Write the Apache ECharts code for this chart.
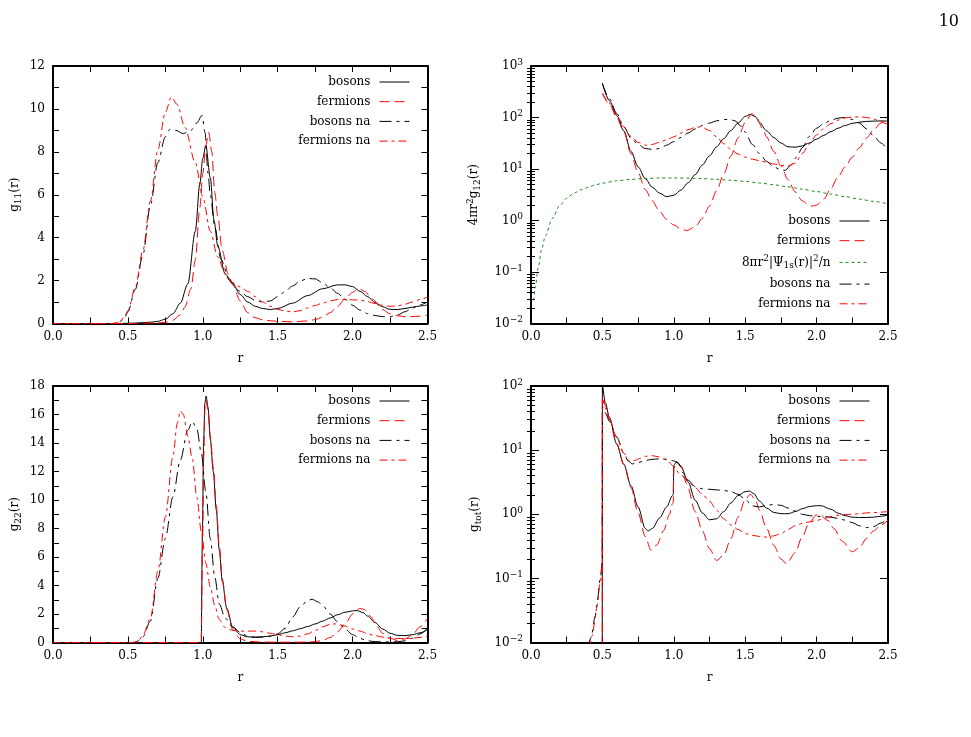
<!DOCTYPE html>
<html><head><meta charset="utf-8">
<script src="https://cdn.jsdelivr.net/npm/echarts@6/dist/echarts.min.js"></script>
<style>html,body{margin:0;padding:0;background:#fff}#c{width:971px;height:737px}</style>
</head><body><div id="c"></div><script>
// ---------------- DATA (r, value) ----------------
const xTicks = [0, 0.5, 1.0, 1.5, 2.0, 2.5];
const seriesNames = ['bosons', 'fermions', 'bosons na', 'fermions na'];
const psiName = '8πr2|Ψ1s(r)|2/n';
const pageNumber = '10';

// panel 1: g11(r)
const g11_bosons = [[0,0],[0.4,0],[0.5,0.01],[0.55,0.02],[0.6,0.04],[0.65,0.06],[0.7,0.1],[0.75,0.2],[0.8,0.45],[0.85,0.95],[0.9,1.85],[0.95,4.3],[0.98,6.5],[1.0,7.7],[1.02,8.3],[1.05,6.8],[1.075,4.8],[1.1,3.6],[1.15,2.3],[1.2,1.85],[1.25,1.35],[1.3,1.0],[1.35,0.8],[1.4,0.7],[1.45,0.65],[1.5,0.7],[1.6,0.95],[1.7,1.3],[1.8,1.62],[1.9,1.8],[1.95,1.8],[2.0,1.72],[2.05,1.5],[2.1,1.25],[2.15,0.98],[2.2,0.78],[2.25,0.66],[2.3,0.65],[2.35,0.7],[2.4,0.76],[2.45,0.82],[2.5,0.86]];
const g11_fermions = [[0,0],[0.5,0],[0.7,0.02],[0.75,0.06],[0.8,0.15],[0.85,0.4],[0.88,0.75],[0.92,1.6],[0.95,2.95],[0.98,5.4],[1.0,7.0],[1.02,8.3],[1.04,8.9],[1.06,8.0],[1.08,6.1],[1.1,5.0],[1.13,3.4],[1.17,2.3],[1.2,1.8],[1.25,1.05],[1.3,0.5],[1.35,0.27],[1.4,0.17],[1.45,0.13],[1.5,0.1],[1.6,0.08],[1.7,0.12],[1.75,0.18],[1.8,0.3],[1.85,0.5],[1.9,0.8],[1.95,1.15],[2.0,1.45],[2.04,1.63],[2.08,1.5],[2.13,1.15],[2.2,0.65],[2.25,0.45],[2.3,0.36],[2.36,0.31],[2.45,0.34],[2.5,0.39]];
const g11_bosons_na = [[0,0],[0.4,0],[0.42,0.02],[0.45,0.1],[0.48,0.3],[0.5,0.55],[0.55,1.6],[0.6,3.2],[0.65,5.5],[0.7,7.5],[0.75,8.7],[0.78,9.05],[0.82,9.0],[0.87,8.85],[0.92,9.0],[0.96,9.35],[0.995,9.7],[1.015,8.9],[1.035,7.0],[1.05,6.0],[1.08,4.5],[1.12,3.0],[1.18,2.0],[1.25,1.5],[1.3,1.25],[1.35,1.08],[1.4,1.0],[1.45,1.05],[1.5,1.25],[1.55,1.5],[1.6,1.75],[1.65,1.98],[1.7,2.1],[1.75,2.08],[1.8,1.9],[1.85,1.67],[1.9,1.4],[1.95,1.13],[2.0,0.85],[2.05,0.62],[2.1,0.46],[2.15,0.37],[2.2,0.32],[2.25,0.32],[2.3,0.4],[2.35,0.55],[2.4,0.72],[2.45,0.87],[2.5,1.0]];
const g11_fermions_na = [[0,0],[0.4,0],[0.42,0.03],[0.45,0.12],[0.48,0.35],[0.5,0.6],[0.55,1.7],[0.6,3.4],[0.65,5.7],[0.7,8.1],[0.75,9.85],[0.79,10.55],[0.83,10.2],[0.88,9.15],[0.95,7.5],[1.0,5.9],[1.05,4.3],[1.1,3.1],[1.15,2.3],[1.2,1.9],[1.25,1.7],[1.3,1.5],[1.35,1.25],[1.4,1.0],[1.45,0.8],[1.5,0.66],[1.55,0.58],[1.6,0.54],[1.65,0.6],[1.7,0.72],[1.75,0.84],[1.8,0.95],[1.85,1.05],[1.9,1.12],[1.95,1.13],[2.0,1.1],[2.05,1.09],[2.1,1.02],[2.15,0.93],[2.2,0.85],[2.25,0.8],[2.3,0.82],[2.35,0.9],[2.4,1.0],[2.45,1.12],[2.5,1.24]];

// panel 2: 4 pi r^2 g12(r) (log)
const g12_bosons = [[0.5,460],[0.55,210],[0.6,110],[0.65,55],[0.7,22],[0.75,11],[0.8,6.5],[0.85,4.4],[0.9,3.4],[0.95,2.9],[1.0,3.1],[1.05,3.9],[1.1,5.4],[1.15,7.8],[1.2,12],[1.25,18],[1.3,27],[1.35,39],[1.4,56],[1.45,78],[1.5,105],[1.535,114],[1.57,105],[1.6,80],[1.65,55],[1.7,41],[1.75,32],[1.8,27],[1.85,26.5],[1.9,28],[1.95,32],[2.0,38],[2.05,45],[2.1,53],[2.15,62],[2.2,70],[2.25,77],[2.3,81],[2.35,84],[2.4,85],[2.45,86],[2.5,85]];
const g12_fermions = [[0.5,290],[0.55,180],[0.6,100],[0.65,53],[0.7,20],[0.75,8.5],[0.8,4.0],[0.85,2.4],[0.9,1.5],[0.95,1.05],[1.0,0.82],[1.05,0.68],[1.09,0.64],[1.15,0.75],[1.2,1.1],[1.25,1.9],[1.3,3.8],[1.35,8],[1.4,18],[1.45,40],[1.5,80],[1.545,119],[1.58,100],[1.62,62],[1.65,42],[1.7,22],[1.75,11.5],[1.8,6.2],[1.85,3.6],[1.9,2.4],[1.95,1.95],[1.97,1.9],[2.0,2.0],[2.05,2.6],[2.1,4.2],[2.15,7],[2.2,11],[2.25,17],[2.3,26],[2.35,40],[2.4,58],[2.45,78],[2.5,100]];
const g12_psi = [[0.02,0.028],[0.03,0.05],[0.05,0.12],[0.075,0.28],[0.1,0.5],[0.15,1.1],[0.2,1.95],[0.25,2.7],[0.3,3.4],[0.35,3.95],[0.4,4.4],[0.45,4.9],[0.5,5.3],[0.6,5.9],[0.7,6.3],[0.8,6.55],[0.9,6.7],[1.0,6.7],[1.1,6.65],[1.2,6.5],[1.3,6.3],[1.4,6.05],[1.5,5.75],[1.6,5.35],[1.7,4.95],[1.8,4.5],[1.9,4.05],[2.0,3.65],[2.1,3.25],[2.2,2.9],[2.3,2.6],[2.4,2.35],[2.5,2.1]];
const g12_bosons_na = [[0.5,460],[0.55,230],[0.6,120],[0.65,66],[0.7,40],[0.75,30],[0.8,25],[0.85,24],[0.9,25],[0.95,29],[1.0,34],[1.05,41],[1.1,50],[1.15,60],[1.2,70],[1.25,78],[1.3,86],[1.35,91],[1.39,92],[1.43,86],[1.47,68],[1.5,52],[1.55,30],[1.6,20],[1.65,14],[1.7,11],[1.75,9.6],[1.78,9.4],[1.82,12],[1.86,17],[1.9,26],[1.95,43],[2.0,62],[2.05,76],[2.1,88],[2.15,97],[2.19,100],[2.25,92],[2.3,78],[2.35,60],[2.4,44],[2.45,32],[2.5,23]];
const g12_fermions_na = [[0.5,300],[0.55,190],[0.6,110],[0.65,66],[0.7,43],[0.75,33],[0.8,29],[0.85,30],[0.9,33],[0.95,37],[1.0,42],[1.05,50],[1.1,58],[1.15,64],[1.19,66],[1.25,56],[1.3,42],[1.35,31],[1.4,24],[1.45,19.5],[1.5,17],[1.55,15.5],[1.6,14.5],[1.65,13.5],[1.7,12.5],[1.75,11.8],[1.8,11.4],[1.85,13],[1.9,20],[1.95,31],[2.0,46],[2.05,61],[2.1,76],[2.15,89],[2.2,98],[2.25,102],[2.3,103],[2.35,100],[2.4,93],[2.45,84],[2.5,71]];

// panel 3: g22(r)
const g22_bosons = [[0,0],[0.99,0],[0.993,0],[0.998,8],[1.005,14],[1.014,16.8],[1.022,17.3],[1.035,16.5],[1.05,14.3],[1.07,12.0],[1.09,9.3],[1.11,6.5],[1.13,4.3],[1.16,2.4],[1.2,1.05],[1.25,0.55],[1.3,0.4],[1.35,0.36],[1.4,0.4],[1.45,0.45],[1.5,0.55],[1.55,0.68],[1.6,0.82],[1.65,0.97],[1.7,1.12],[1.75,1.3],[1.8,1.5],[1.85,1.72],[1.9,1.95],[1.95,2.12],[2.0,2.22],[2.03,2.24],[2.07,2.1],[2.1,1.85],[2.15,1.4],[2.2,0.95],[2.25,0.65],[2.3,0.5],[2.35,0.48],[2.4,0.55],[2.45,0.68],[2.5,0.9]];
const g22_fermions = [[0,0],[0.99,0],[0.993,0],[0.999,7],[1.006,13],[1.015,16.6],[1.022,17.0],[1.035,16.2],[1.05,14.5],[1.07,12.3],[1.09,9.6],[1.11,6.8],[1.13,4.5],[1.16,2.3],[1.2,0.9],[1.25,0.25],[1.3,0.08],[1.4,0.03],[1.5,0.02],[1.6,0.02],[1.7,0.03],[1.75,0.06],[1.8,0.15],[1.85,0.35],[1.9,0.75],[1.95,1.3],[2.0,2.0],[2.05,2.4],[2.08,2.3],[2.12,1.83],[2.16,1.2],[2.2,0.65],[2.25,0.3],[2.3,0.14],[2.35,0.25],[2.4,0.55],[2.45,1.1],[2.5,1.7]];
const g22_bosons_na = [[0,0],[0.55,0],[0.6,0.4],[0.65,1.5],[0.7,4.5],[0.75,7.3],[0.8,10.2],[0.85,12.8],[0.9,14.9],[0.93,15.5],[0.96,15.0],[0.99,13.3],[1.02,10.6],[1.05,7.3],[1.08,4.6],[1.11,2.7],[1.15,1.7],[1.2,1.1],[1.25,0.7],[1.3,0.45],[1.35,0.38],[1.4,0.38],[1.45,0.45],[1.5,0.6],[1.55,1.0],[1.6,1.8],[1.65,2.5],[1.7,2.95],[1.73,3.03],[1.77,2.85],[1.8,2.6],[1.85,2.0],[1.9,1.45],[1.95,0.95],[2.0,0.55],[2.05,0.28],[2.1,0.12],[2.15,0.06],[2.2,0.04],[2.3,0.05],[2.35,0.12],[2.4,0.3],[2.45,0.6],[2.5,1.0]];
const g22_fermions_na = [[0,0],[0.53,0],[0.57,0.1],[0.6,0.5],[0.65,1.7],[0.7,5.0],[0.75,8.8],[0.8,13.0],[0.83,15.4],[0.85,16.25],[0.87,16.0],[0.9,14.5],[0.93,12.9],[0.96,10.2],[0.99,7.8],[1.02,5.6],[1.05,3.9],[1.08,2.6],[1.11,1.6],[1.15,1.05],[1.2,0.85],[1.25,0.8],[1.3,0.8],[1.35,0.8],[1.4,0.75],[1.45,0.65],[1.5,0.55],[1.55,0.45],[1.6,0.4],[1.65,0.45],[1.7,0.6],[1.75,0.85],[1.8,1.1],[1.85,1.28],[1.89,1.31],[1.95,1.15],[2.0,0.95],[2.05,0.8],[2.1,0.62],[2.15,0.48],[2.2,0.38],[2.25,0.3],[2.3,0.28],[2.35,0.28],[2.4,0.3],[2.45,0.36],[2.5,0.45]];

// panel 4: gtot(r) (log)
const gtot_bosons = [[0.499,0.001],[0.5,100],[0.52,55],[0.55,32],[0.6,12.5],[0.65,6.0],[0.7,2.8],[0.75,1.3],[0.8,0.6],[0.82,0.55],[0.85,0.6],[0.9,0.87],[0.95,1.3],[0.99,1.95],[0.996,2.0],[1.0,5.8],[1.02,6.6],[1.05,5.6],[1.1,3.2],[1.15,1.65],[1.2,1.05],[1.25,0.82],[1.3,0.85],[1.35,1.1],[1.4,1.5],[1.45,1.95],[1.5,2.25],[1.53,2.3],[1.56,2.1],[1.6,1.6],[1.65,1.25],[1.7,1.07],[1.75,1.02],[1.8,1.02],[1.85,1.1],[1.9,1.22],[1.95,1.32],[2.0,1.36],[2.03,1.36],[2.1,1.2],[2.15,1.04],[2.2,0.95],[2.25,0.9],[2.3,0.89],[2.35,0.89],[2.4,0.9],[2.45,0.93],[2.5,0.97]];
const gtot_fermions = [[0.499,0.001],[0.5,70],[0.52,50],[0.55,30],[0.6,12.5],[0.65,6.0],[0.7,2.6],[0.75,1.05],[0.8,0.45],[0.84,0.275],[0.88,0.33],[0.93,0.56],[0.97,1.0],[0.99,1.45],[0.996,1.5],[1.0,5.2],[1.02,6.5],[1.05,5.6],[1.09,3.0],[1.15,1.1],[1.2,0.55],[1.25,0.29],[1.3,0.19],[1.35,0.23],[1.4,0.42],[1.45,0.9],[1.5,1.7],[1.535,2.05],[1.57,1.7],[1.6,1.15],[1.65,0.6],[1.7,0.33],[1.75,0.2],[1.79,0.17],[1.85,0.25],[1.9,0.45],[1.95,0.75],[2.0,0.98],[2.02,1.0],[2.08,0.8],[2.12,0.6],[2.18,0.38],[2.25,0.26],[2.3,0.3],[2.35,0.42],[2.4,0.55],[2.45,0.68],[2.5,0.81]];
const gtot_bosons_na = [[0.4,0.008],[0.42,0.012],[0.45,0.026],[0.46,0.038],[0.486,0.1],[0.499,0.18],[0.5,48],[0.52,38],[0.55,28],[0.6,16],[0.65,9],[0.68,6.8],[0.71,6.1],[0.75,6.4],[0.8,6.9],[0.85,7.2],[0.9,7.3],[0.95,7.2],[1.0,6.8],[1.03,6.3],[1.07,4.3],[1.1,3.4],[1.15,2.7],[1.2,2.5],[1.25,2.45],[1.3,2.4],[1.35,2.35],[1.4,2.25],[1.45,2.05],[1.5,1.7],[1.55,1.35],[1.6,1.3],[1.65,1.38],[1.7,1.42],[1.75,1.38],[1.8,1.25],[1.85,1.12],[1.9,1.0],[1.95,0.95],[2.0,0.93],[2.05,0.92],[2.1,0.9],[2.15,0.86],[2.2,0.81],[2.25,0.74],[2.3,0.66],[2.35,0.62],[2.4,0.64],[2.45,0.73],[2.5,0.85]];
const gtot_fermions_na = [[0.41,0.008],[0.43,0.013],[0.45,0.024],[0.46,0.035],[0.486,0.09],[0.499,0.17],[0.5,62],[0.52,45],[0.55,30],[0.6,16],[0.65,9],[0.68,7.0],[0.72,6.8],[0.76,7.4],[0.8,8.0],[0.85,8.2],[0.9,7.8],[0.95,7.0],[1.0,5.6],[1.04,4.3],[1.1,3.3],[1.15,2.6],[1.2,2.05],[1.25,1.6],[1.3,1.15],[1.35,0.85],[1.4,0.68],[1.45,0.58],[1.5,0.5],[1.55,0.47],[1.6,0.45],[1.65,0.44],[1.7,0.46],[1.75,0.5],[1.8,0.58],[1.85,0.66],[1.9,0.72],[1.95,0.76],[2.0,0.8],[2.05,0.85],[2.1,0.92],[2.15,0.96],[2.2,0.99],[2.25,1.0],[2.3,1.02],[2.35,1.05],[2.4,1.06],[2.45,1.08],[2.5,1.1]];

// ---------------- STYLE ----------------
const FONT = 'DejaVu Serif';
const BLACK = '#000000', RED = '#ff0000', GREEN = '#1c8a1c';
const lineStyles = {
  'bosons': {color: BLACK, type: 'solid'},
  'fermions': {color: RED, type: [10, 5]},
  'bosons na': {color: BLACK, type: [12, 5, 3, 5]},
  'fermions na': {color: RED, type: [8, 4, 3, 4]},
  [psiName]: {color: GREEN, type: [3, 3]}
};
const txt = {fontFamily: FONT, fontSize: 12, color: '#000'};
const richSS = {
  sub: {fontFamily: FONT, fontSize: 9, color: '#000', padding: [7, 0, 0, 0]},
  sup: {fontFamily: FONT, fontSize: 9, color: '#000', padding: [0, 0, 7, 0]}
};

const grids = [
  {left: 53, top: 66, width: 374.5, height: 257.5},
  {left: 531, top: 66, width: 357, height: 257.5},
  {left: 53, top: 386, width: 374.5, height: 256.5},
  {left: 531, top: 386, width: 357, height: 256.5}
];
const xAxis = [], yAxis = [], series = [], legend = [];
const axisLineSty = {show: true, onZero: false, lineStyle: {color: '#000', width: 2}};

function minorLog(a, b) {
  const out = [];
  for (let e = a; e < b; e++) for (let m = 2; m <= 9; m++) out.push(e + Math.log10(m));
  return out;
}
function supExp(v) {
  const e = Math.round(Math.log10(v));
  return '10{sup|' + (e < 0 ? '\u2212' + (-e) : e) + '}';
}

function addPanel(gi, cfg) {
  const xi = xAxis.length;
  const baseX = {gridIndex: gi, type: 'value', min: 0, max: 2.5, interval: 0.25,
    axisLine: axisLineSty, splitLine: {show: false},
    axisTick: {show: true, inside: true, length: 6, lineStyle: {color: '#000', width: 1}}};
  xAxis.push(Object.assign({}, baseX, {position: 'bottom',
    axisLabel: Object.assign({margin: 7, formatter: v => (xTicks.some(t => Math.abs(t - v) < 1e-6) ? v.toFixed(1) : '')}, txt),
    name: 'r', nameLocation: 'middle', nameGap: 29, nameTextStyle: txt}));
  xAxis.push(Object.assign({}, baseX, {position: 'top', axisLabel: {show: false}}));

  const yi = yAxis.length;
  let baseY;
  if (cfg.log) {
    baseY = {gridIndex: gi, type: 'log', logBase: 10, min: cfg.min, max: cfg.max,
      axisLine: axisLineSty, splitLine: {show: false}, minorTick: {show: false},
      axisTick: {show: true, inside: true, length: 8, lineStyle: {color: '#000', width: 1}}};
  } else {
    baseY = {gridIndex: gi, type: 'value', min: cfg.min, max: cfg.max, interval: 1,
      axisLine: axisLineSty, splitLine: {show: false},
      axisTick: {show: true, inside: true, length: 6, lineStyle: {color: '#000', width: 1}}};
  }
  yAxis.push(Object.assign({}, baseY, {position: 'left',
    axisLabel: Object.assign({margin: 8, rich: richSS,
      formatter: cfg.log ? supExp : (v => (v % 2 === 0 ? String(v) : ''))}, txt),
    name: cfg.yname, nameLocation: 'middle', nameGap: cfg.nameGap, nameRotate: 90,
    nameTextStyle: Object.assign({rich: richSS}, txt)}));
  yAxis.push(Object.assign({}, baseY, {position: 'right', axisLabel: {show: false}}));
  if (cfg.log) {
    const lo = Math.round(Math.log10(cfg.min)), hi = Math.round(Math.log10(cfg.max));
    ['left', 'right'].forEach(pos => {
      yAxis.push({gridIndex: gi, type: 'value', min: lo, max: hi, position: pos,
        axisLine: {show: false}, axisLabel: {show: false}, splitLine: {show: false},
        axisTick: {show: true, inside: true, length: 4, customValues: minorLog(lo, hi),
          lineStyle: {color: '#000', width: 1}}});
    });
  }
  cfg.data.forEach(([name, d]) => {
    const s = lineStyles[name];
    series.push({type: 'line', name: name, xAxisIndex: xi, yAxisIndex: yi, data: d,
      symbol: 'none', showSymbol: false, smooth: 0.3, smoothMonotone: 'x', clip: true,
      lineStyle: {color: s.color, width: 1, type: s.type}, itemStyle: {color: s.color},
      emphasis: {disabled: true}, animation: false});
  });
  legend.push({orient: 'vertical', align: 'right', right: cfg.legRight, top: cfg.legTop,
    padding: 0, itemWidth: 30, itemHeight: 14, itemGap: 7.7, selectedMode: false,
    itemStyle: {color: 'rgba(0,0,0,0)', borderColor: 'rgba(0,0,0,0)', borderWidth: 0, opacity: 0},
    lineStyle: {width: 1},
    data: cfg.data.map(d => d[0]),
    formatter: n => (n === psiName ? '8πr{sup|2}|Ψ{sub|1s}(r)|{sup|2}/n' : n),
    textStyle: Object.assign({padding: [0, 4, 0, 0], rich: richSS}, txt)});
}

addPanel(0, {log: false, min: 0, max: 12, yname: 'g{sub|11}(r)', nameGap: 30, legRight: 561, legTop: 76,
  data: [['bosons', g11_bosons], ['fermions', g11_fermions], ['bosons na', g11_bosons_na], ['fermions na', g11_fermions_na]]});
addPanel(1, {log: true, min: 0.01, max: 1000, yname: '4πr{sup|2}g{sub|12}(r)', nameGap: 49, legRight: 101, legTop: 215,
  data: [['bosons', g12_bosons], ['fermions', g12_fermions], [psiName, g12_psi], ['bosons na', g12_bosons_na], ['fermions na', g12_fermions_na]]});
addPanel(2, {log: false, min: 0, max: 18, yname: 'g{sub|22}(r)', nameGap: 30, legRight: 561, legTop: 395,
  data: [['bosons', g22_bosons], ['fermions', g22_fermions], ['bosons na', g22_bosons_na], ['fermions na', g22_fermions_na]]});
addPanel(3, {log: true, min: 0.01, max: 100, yname: 'g{sub|tot}(r)', nameGap: 48, legRight: 101, legTop: 395,
  data: [['bosons', gtot_bosons], ['fermions', gtot_fermions], ['bosons na', gtot_bosons_na], ['fermions na', gtot_fermions_na]]});

const chart = echarts.init(document.getElementById('c'), null, {renderer: 'canvas'});
chart.setOption({
  animation: false,
  backgroundColor: '#ffffff',
  title: {text: pageNumber, right: 7, top: 9, textStyle: {fontFamily: FONT, fontSize: 16, fontWeight: 'normal', color: '#000'}},
  grid: grids.map(g => Object.assign({containLabel: false, outerBoundsMode: 'none'}, g)),
  xAxis: xAxis, yAxis: yAxis, series: series, legend: legend
});
</script></body></html>
